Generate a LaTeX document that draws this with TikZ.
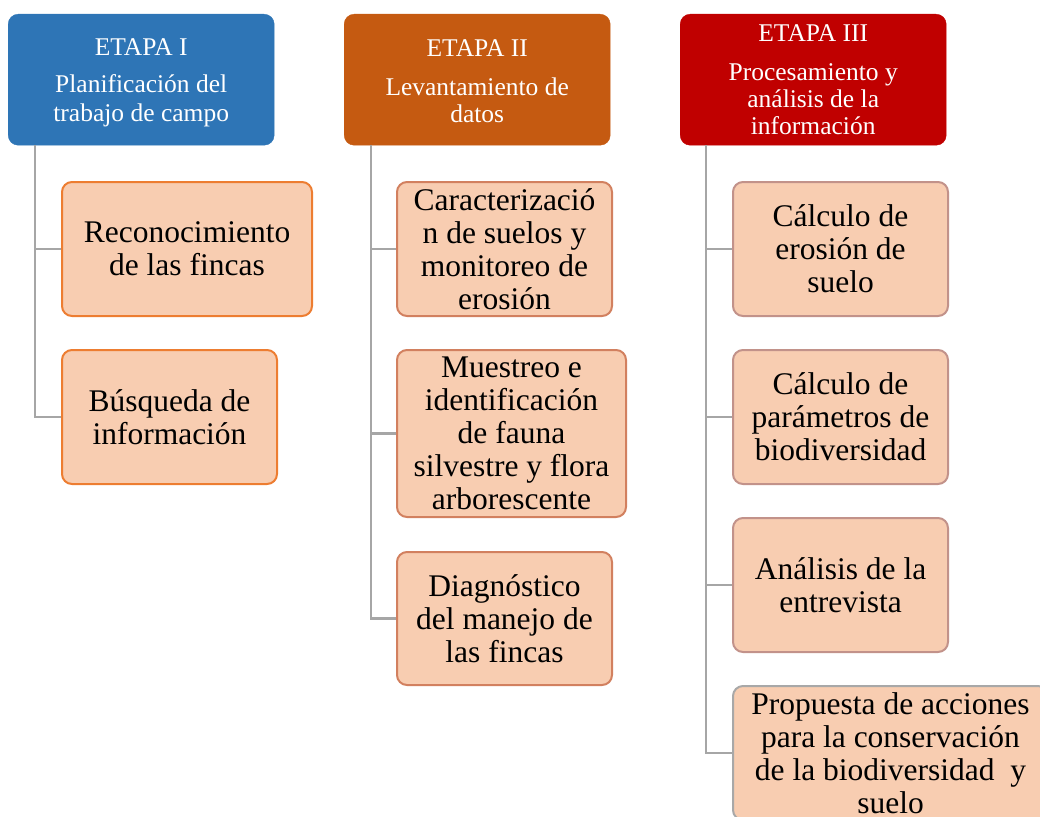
\documentclass[tikz,border=0pt]{standalone}
\usepackage{fontspec}
\setmainfont{Liberation Serif}
\definecolor{hblue}{HTML}{2E75B6}
\definecolor{horange}{HTML}{C55A11}
\definecolor{hred}{HTML}{C00000}
\definecolor{cfill}{HTML}{F8CDB1}
\definecolor{bone}{HTML}{ED7D31}
\definecolor{btwo}{HTML}{D2805F}
\definecolor{bthree}{HTML}{C2928A}
\definecolor{bfour}{HTML}{A8A8A8}
\definecolor{lgrey}{HTML}{A6A6A6}
\tikzset{
  header/.style={fill=#1, draw=#1, rounded corners=10pt, text=white, align=center,
    minimum width=266pt, minimum height=131pt, inner sep=0pt, anchor=north west},
  child/.style={fill=cfill, draw=#1, line width=2pt, rounded corners=10pt, align=center,
    inner sep=0pt, anchor=north west, font=\fontsize{31.5}{33}\selectfont},
  conn/.style={draw=lgrey, line width=2.5pt}
}
\begin{document}
\begin{tikzpicture}[x=1pt,y=-1pt]
\useasboundingbox (0,0) rectangle (1040,816);
% headers
\node[header=hblue, font=\fontsize{25.5}{29}\selectfont] (h1) at (8,14) {\rule{0pt}{23pt}ETAPA I\\[8pt]Planificación del\\trabajo de campo};
\node[header=horange, font=\fontsize{25.5}{27}\selectfont] (h2) at (344,14) {\rule{0pt}{20pt}ETAPA II\\[12pt]Levantamiento de\\datos};
\node[header=hred, font=\fontsize{25.5}{27}\selectfont] (h3) at (680,14) {ETAPA III\\[12pt]Procesamiento y\\análisis de la\\información};
% column 1
\node[child=bone, minimum width=250pt, minimum height=134pt] (c11) at (61,181) {Reconocimiento\\de las fincas};
\node[child=bone, minimum width=215pt, minimum height=134pt] (c12) at (61,349) {Búsqueda de\\información};
% column 2
\node[child=btwo, minimum width=215pt, minimum height=134pt] (c21) at (396,181) {Caracterizació\\n de suelos y\\monitoreo de\\erosión};
\node[child=btwo, minimum width=229pt, minimum height=167pt] (c22) at (396,349) {Muestreo e\\identificación\\de fauna\\silvestre y flora\\arborescente};
\node[child=btwo, minimum width=215pt, minimum height=133pt] (c23) at (396,551) {Diagnóstico\\del manejo de\\las fincas};
% column 3
\node[child=bthree, minimum width=215pt, minimum height=134pt] (c31) at (732,181) {Cálculo de\\erosión de\\suelo};
\node[child=bthree, minimum width=215pt, minimum height=134pt] (c32) at (732,349) {Cálculo de\\parámetros de\\biodiversidad};
\node[child=bthree, minimum width=215pt, minimum height=134pt] (c33) at (732,517) {Análisis de la\\entrevista};
\node[child=bfour, minimum width=315pt, minimum height=134pt] (c34) at (732,685) {Propuesta de acciones\\para la conservación\\de la biodiversidad~ y\\suelo};
% connectors
\draw[conn] ([xshift=27pt]h1.south west) |- (c11.west);
\draw[conn] ([xshift=27pt]h1.south west) |- (c12.west);
\draw[conn] ([xshift=27pt]h2.south west) |- (c21.west);
\draw[conn] ([xshift=27pt]h2.south west) |- (c22.west);
\draw[conn] ([xshift=27pt]h2.south west) |- (c23.west);
\draw[conn] ([xshift=26pt]h3.south west) |- (c31.west);
\draw[conn] ([xshift=26pt]h3.south west) |- (c32.west);
\draw[conn] ([xshift=26pt]h3.south west) |- (c33.west);
\draw[conn] ([xshift=26pt]h3.south west) |- (c34.west);
\end{tikzpicture}
\end{document}
